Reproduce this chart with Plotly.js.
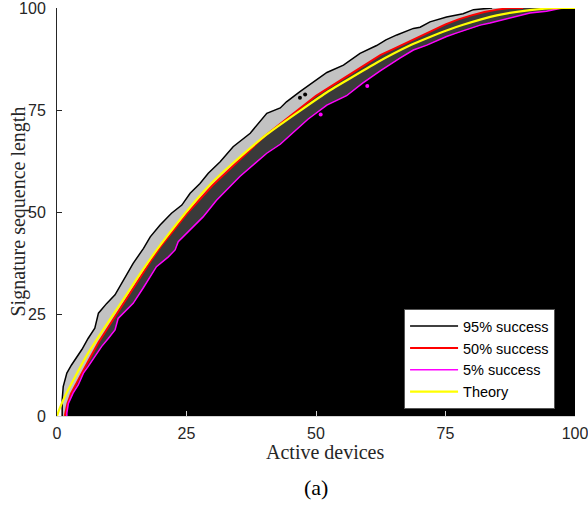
<!DOCTYPE html>
<html>
<head>
<meta charset="utf-8">
<script src="https://cdn.plot.ly/plotly-3.0.1.min.js"></script>
<style>html,body{margin:0;padding:0;background:#fff;}</style>
</head>
<body>
<div id="chart" style="width:588px;height:514px;"></div>
<script>
// ---- Data ----
// 95% success contour
const c95X = [1.0, 1.0, 1.2, 1.9, 2.8, 3.8, 4.8, 6.0, 7.3, 8.0, 9.6, 11.2, 12.5, 13.5, 14.7, 16.7, 18.0, 19.9, 22.1, 24.1, 25.7, 27.6, 29.2, 31.5, 34.0, 37.3, 40.5, 43.1, 44.3, 46.9, 48.2, 50.8, 52.1, 55.3, 58.5, 61.7, 63.5, 65.6, 68.8, 70.1, 72.0, 75.2, 78.4, 80.4, 84.0];
const c95Y = [0.0, 4.0, 7.2, 10.5, 12.5, 14.4, 16.3, 19.0, 21.5, 25.2, 27.6, 29.7, 32.5, 35.0, 37.4, 41.1, 43.9, 46.8, 49.7, 51.7, 54.6, 57.0, 59.5, 62.3, 66.0, 69.3, 74.2, 75.5, 77.0, 79.5, 80.7, 83.0, 84.2, 86.0, 88.9, 90.8, 92.2, 93.4, 95.0, 95.3, 96.6, 97.8, 98.6, 99.6, 100.0];
// 50% success contour
const c50X = [1.5, 2.0, 2.7, 3.7, 5.0, 6.5, 8.0, 10.0, 12.0, 14.0, 16.0, 18.0, 20.0, 22.5, 25.0, 27.5, 30.0, 32.5, 35.0, 37.5, 40.0, 42.5, 45.0, 47.5, 50.0, 52.5, 55.0, 57.5, 60.0, 62.5, 65.0, 67.5, 70.0, 72.5, 75.0, 77.5, 80.0, 82.5, 85.0, 87.5, 90.0];
const c50Y = [0.0, 3.0, 5.5, 8.0, 11.0, 14.5, 18.0, 22.0, 26.0, 30.0, 33.8, 37.8, 41.5, 45.5, 49.5, 53.0, 56.5, 59.5, 62.5, 65.5, 68.5, 71.0, 73.5, 76.0, 78.5, 80.5, 82.5, 84.5, 86.5, 88.5, 90.0, 91.5, 93.0, 94.5, 96.0, 97.2, 98.2, 99.0, 99.6, 100.0, 100.0];
// 5% success contour
const c05X = [1.9, 1.9, 2.2, 3.1, 4.1, 5.1, 6.0, 7.3, 8.6, 9.9, 11.2, 11.8, 13.1, 14.7, 16.7, 19.2, 21.5, 22.8, 23.4, 26.3, 28.2, 30.8, 33.1, 35.3, 40.5, 43.1, 45.6, 48.5, 52.1, 55.9, 59.0, 62.4, 66.2, 68.8, 71.4, 75.2, 77.2, 81.7, 83.6, 88.1, 91.3, 94.5, 95.8, 97.5];
const c05Y = [0.0, 0.7, 3.1, 5.6, 7.6, 10.5, 12.1, 14.5, 17.0, 19.0, 21.1, 23.9, 25.6, 27.6, 31.5, 36.6, 39.0, 40.7, 42.7, 46.4, 48.8, 52.9, 55.8, 58.7, 64.4, 66.6, 69.5, 72.8, 76.2, 78.5, 81.6, 84.6, 87.7, 89.7, 90.9, 93.0, 93.9, 95.8, 96.3, 97.7, 98.8, 99.2, 99.6, 100.0];
// Theory curve
const thX = [0, 0.5, 1.5, 3.5, 6, 9.3, 12.5, 16, 20, 26.3, 30, 34, 40.5, 46.9, 52.4, 55.3, 61.7, 68.1, 72, 75.2, 78.4, 84.9, 91.3, 97.8, 100];
const thY = [0, 1.8, 4.7, 9.6, 15.4, 21.9, 28.0, 34.8, 42.0, 52.1, 57.3, 62.0, 69.0, 74.8, 79.6, 81.8, 86.6, 90.8, 92.9, 94.5, 95.9, 98.2, 99.5, 100, 100];
// small isolated contour islands
const isl95X = [46.9, 47.9];
const isl95Y = [78.0, 78.8];
const isl05X = [50.9, 59.9];
const isl05Y = [73.9, 80.9];
// axis
const tickVals = [0, 25, 50, 75, 100];
const axMin = 0, axMax = 100;
const xTitle = 'Active devices';
const yTitle = 'Signature sequence length';

// ---- Region polygons built from the contours ----
const rev = a => a.slice().reverse();
const bandHiX = c95X.concat(rev(c50X));
const bandHiY = c95Y.concat(rev(c50Y));
const bandLoX = c50X.concat(rev(c05X));
const bandLoY = c50Y.concat(rev(c05Y));
const failX = c05X.concat([axMax, axMax, c05X[0]]);
const failY = c05Y.concat([axMax, axMin, axMin]);

const traces = [
  {x: bandHiX, y: bandHiY, type: 'scatter', mode: 'lines', fill: 'toself',
   fillcolor: '#c2c2c2', line: {width: 0}, showlegend: false, hoverinfo: 'skip'},
  {x: bandLoX, y: bandLoY, type: 'scatter', mode: 'lines', fill: 'toself',
   fillcolor: '#3a3a3a', line: {width: 0}, showlegend: false, hoverinfo: 'skip'},
  {x: failX, y: failY, type: 'scatter', mode: 'lines', fill: 'toself',
   fillcolor: '#000000', line: {width: 0}, showlegend: false, hoverinfo: 'skip'},
  {x: c95X, y: c95Y, type: 'scatter', mode: 'lines', name: '95% success',
   line: {color: '#000000', width: 1.5}},
  {x: c50X, y: c50Y, type: 'scatter', mode: 'lines', name: '50% success',
   line: {color: '#ff0000', width: 2}},
  {x: c05X, y: c05Y, type: 'scatter', mode: 'lines', name: '5% success',
   line: {color: '#ff00ff', width: 1.5}},
  {x: thX, y: thY, type: 'scatter', mode: 'lines', name: 'Theory',
   line: {color: '#ffff00', width: 2.2, shape: 'spline', smoothing: 0.6}},
  {x: isl95X, y: isl95Y, type: 'scatter', mode: 'markers', showlegend: false,
   marker: {color: '#000000', size: 4}},
  {x: isl05X, y: isl05Y, type: 'scatter', mode: 'markers', showlegend: false,
   marker: {color: '#ff00ff', size: 4}}
];

const dark = '#262626', light = '#d4d4d4';
const tickFont = {family: 'Liberation Sans, Arial, sans-serif', size: 16, color: dark};
const serif = {family: 'Liberation Serif, Times New Roman, serif', size: 20, color: dark};

const layout = {
  width: 588, height: 514,
  margin: {l: 57, r: 13, t: 8, b: 98},
  paper_bgcolor: '#ffffff', plot_bgcolor: '#ffffff',
  showlegend: true,
  xaxis: {
    range: [axMin, axMax], tickvals: tickVals, ticktext: tickVals.map(String),
    ticks: 'inside', ticklen: 5, tickcolor: light, showline: true, linecolor: light, linewidth: 1,
    showgrid: false, zeroline: false, tickfont: tickFont, ticklabelstandoff: 3,
    ticklabeloverflow: 'allow'
  },
  xaxis2: {
    overlaying: 'x', side: 'top', anchor: 'y', range: [axMin, axMax], tickvals: tickVals,
    ticks: 'inside', ticklen: 5, tickcolor: dark, showline: true, linecolor: dark, linewidth: 1,
    showgrid: false, zeroline: false, showticklabels: false
  },
  yaxis: {
    range: [axMin, axMax], tickvals: tickVals, ticktext: tickVals.map(String),
    ticks: 'inside', ticklen: 5, tickcolor: dark, showline: true, linecolor: dark, linewidth: 1,
    showgrid: false, zeroline: false, tickfont: tickFont, ticklabelstandoff: 7,
    ticklabeloverflow: 'allow'
  },
  yaxis2: {
    overlaying: 'y', side: 'right', anchor: 'x', range: [axMin, axMax], tickvals: tickVals,
    ticks: 'inside', ticklen: 5, tickcolor: light, showline: true, linecolor: light, linewidth: 1,
    showgrid: false, zeroline: false, showticklabels: false
  },
  legend: {
    x: 0.67, y: 0.262, xanchor: 'left', yanchor: 'top',
    bgcolor: '#ffffff', bordercolor: '#555555', borderwidth: 1,
    itemwidth: 48,
    font: {family: 'Liberation Sans, Arial, sans-serif', size: 14.5, color: '#000000'},
    tracegroupgap: 0
  },
  annotations: [
    {text: xTitle, xref: 'paper', yref: 'paper', x: 0.518, y: 0, yshift: -36,
     xanchor: 'center', yanchor: 'middle', showarrow: false, font: serif},
    {text: yTitle, xref: 'paper', yref: 'paper', x: 0, xshift: -39.5, y: 0.5, textangle: -90,
     xanchor: 'center', yanchor: 'middle', showarrow: false, font: serif},
    {text: '(a)', xref: 'paper', yref: 'paper', x: 0.5, y: 0, yshift: -71,
     xanchor: 'center', yanchor: 'middle', showarrow: false,
     font: {family: 'Liberation Serif, Times New Roman, serif', size: 22, color: '#000000'}}
  ]
};

Plotly.newPlot('chart', traces, layout, {displayModeBar: false, staticPlot: true});
</script>
</body>
</html>
